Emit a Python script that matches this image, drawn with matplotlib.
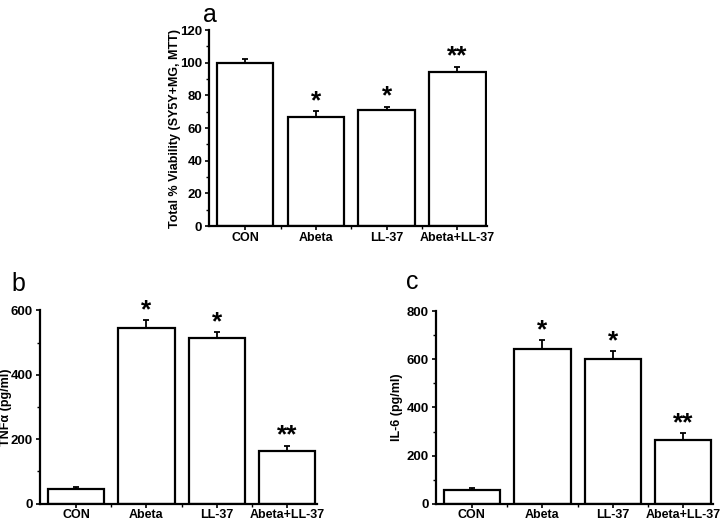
import numpy as np
import matplotlib
matplotlib.use("Agg")
import matplotlib.pyplot as plt
from matplotlib.ticker import MultipleLocator, FixedLocator

plt.rcParams['font.family'] = ['Liberation Sans', 'DejaVu Sans']

groups = ['CON', 'Abeta', 'LL-37', 'Abeta+LL-37']

viability = [100, 67, 71, 94]
viability_err = [2, 3.5, 2, 3.5]
viability_sig = ['', '*', '*', '**']

tnf = [45, 545, 515, 165]
tnf_err = [8, 25, 18, 15]
tnf_sig = ['', '*', '*', '**']

il6 = [55, 645, 600, 265]
il6_err = [10, 35, 35, 28]
il6_sig = ['', '*', '*', '**']


def bar_panel(ax, vals, errs, sig, ymax, ystep, ylabel, label_x, letter, lx, ly):
    x = np.arange(len(groups))
    ax.bar(x, vals, width=0.8, color='white', edgecolor='black', linewidth=1.6)
    ax.errorbar(x, vals, yerr=[np.zeros(len(errs)), errs], fmt='none',
                ecolor='black', elinewidth=1.3, capsize=2, capthick=1.3)
    for xi, v, e, s in zip(x, vals, errs, sig):
        if s:
            ax.text(xi, v + e - ymax * 0.01, s, ha='center', va='bottom',
                    fontsize=19, fontweight='bold')
    ax.set_xlim(-0.51, 3.42)
    ax.set_ylim(0, ymax)
    ax.set_xticks(x)
    ax.set_xticklabels(groups, fontsize=9, fontweight='bold')
    ax.xaxis.set_minor_locator(FixedLocator([0.5, 1.5, 2.5]))
    ax.yaxis.set_major_locator(MultipleLocator(ystep))
    ax.yaxis.set_minor_locator(MultipleLocator(ystep / 2))
    for lab in ax.get_yticklabels():
        lab.set_fontweight('bold')
        lab.set_fontsize(9.5)
    ax.tick_params(which='major', direction='out', length=3, width=1.2, pad=2)
    ax.tick_params(axis='x', which='major', pad=1)
    ax.tick_params(which='minor', direction='out', length=2, width=1)
    ax.spines['top'].set_visible(False)
    ax.spines['right'].set_visible(False)
    ax.spines['left'].set_linewidth(1.6)
    ax.spines['bottom'].set_linewidth(1.6)
    ax.set_ylabel(ylabel, fontsize=9, fontweight='bold')
    ax.yaxis.set_label_coords(label_x, 0.5)
    ax.figure.text(lx, ly, letter, fontsize=18, ha='left', va='baseline')


fig = plt.figure(figsize=(7.21, 5.22), dpi=100)

ax_a = fig.add_axes([0.290, 0.567, 0.3856, 0.3755])
bar_panel(ax_a, viability, viability_err, viability_sig, 120, 20,
          'Total % Viability (SY5Y+MG, MTT)', -0.10, 'a', 0.282, 0.958)

ax_b = fig.add_axes([0.0555, 0.0352, 0.384, 0.3700])
bar_panel(ax_b, tnf, tnf_err, tnf_sig, 600, 200,
          'TNF\u03b1 (pg/ml)', -0.10, 'b', 0.016, 0.443)

ax_c = fig.add_axes([0.6047, 0.0352, 0.384, 0.3683])
bar_panel(ax_c, il6, il6_err, il6_sig, 800, 200,
          'IL-6 (pg/ml)', -0.119, 'c', 0.563, 0.447)

fig.savefig('out.png', dpi=100)
